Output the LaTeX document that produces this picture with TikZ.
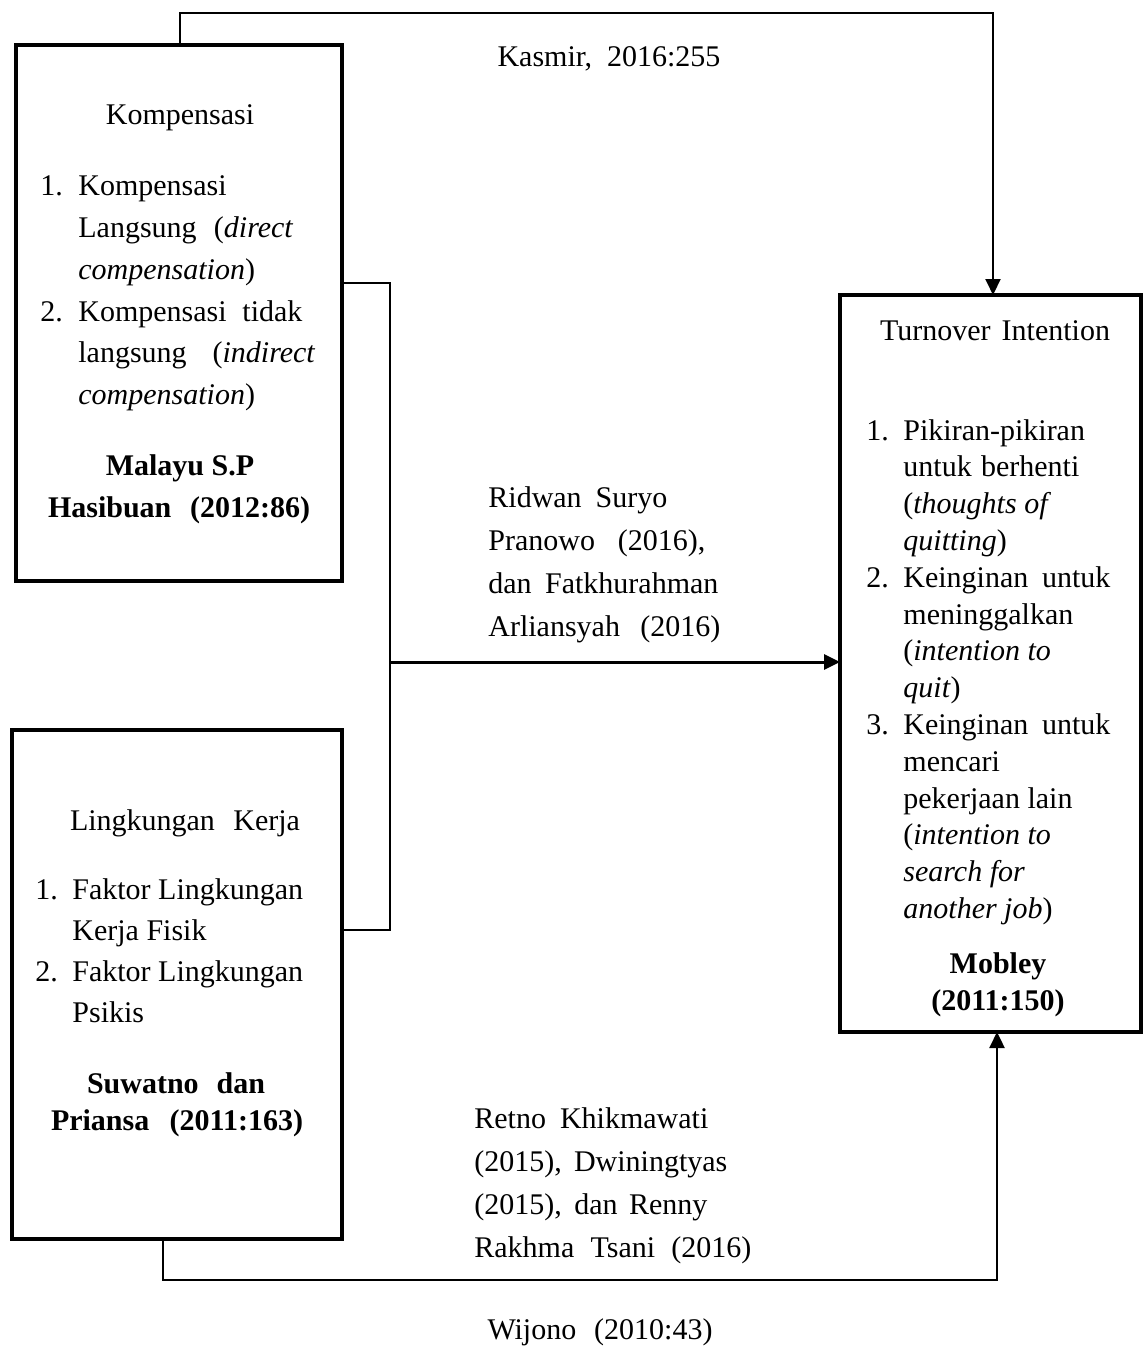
\documentclass[tikz,border=0pt]{standalone}
\usepackage{fontspec}
\setmainfont{Liberation Serif}
\usetikzlibrary{arrows.meta}
\newcommand{\jl}[2]{\makebox[\dimexpr #1pt/2\relax][s]{#2}}
\begin{document}
\begin{tikzpicture}[x=0.5pt,y=-0.5pt,
  box/.style={draw,line width=2pt,inner sep=0pt,outer sep=0pt},
  txt/.style={anchor=base west,inner sep=0pt,font=\fontsize{15pt}{18pt}\selectfont},
  ctxt/.style={anchor=base,inner sep=0pt,font=\fontsize{15pt}{18pt}\selectfont},
  btxt/.style={anchor=base,inner sep=0pt,font=\fontsize{15pt}{18pt}\selectfont\bfseries},
  arr/.style={-{Triangle[width=7.5pt,length=8pt]}}]
\useasboundingbox (0,0) rectangle (1144,1348);

% boxes
\node[box,minimum width=163pt,minimum height=268pt] (k) at (179,313) {};
\node[box,minimum width=165pt,minimum height=254.5pt] (l) at (177,984.5) {};
\node[box,minimum width=150.5pt,minimum height=368.5pt] (t) at (990.5,663.5) {};

% connectors
\coordinate (tl) at (180,13);
\coordinate (tr) at (993,13);
\draw[line width=1pt,arr] (k.north -| tl) -- (tl) -- (tr) -- (t.north -| tr);

\coordinate (b1) at (390,283);
\coordinate (b2) at (390,930);
\coordinate (bm) at (390,662);
\draw[line width=0.75pt] (k.east |- b1) -- (b1) -- (b2) -- (l.east |- b2);
\draw[line width=1.5pt,arr] (bm) -- (t.west |- bm);

\coordinate (bl) at (163,1280);
\coordinate (br) at (997,1280);
\draw[line width=1.2pt,arr] (l.south -| bl) -- (bl) -- (br) -- (t.south -| br);

% Kompensasi box
\node[ctxt] (k0) at (180,125) {Kompensasi};
\node[txt] (k1n) at (40,196) {1.};
\node[txt] (k1a) at (78,196) {Kompensasi};
\node[txt] (k1b) at (78,238) {\jl{215}{Langsung (\textit{direct}}};
\node[txt] (k1c) at (78,279) {\textit{compensation})};
\node[txt] (k2n) at (40,321) {2.};
\node[txt] (k2a) at (78,321) {\jl{224}{Kompensasi tidak}};
\node[txt] (k2b) at (78,362) {\jl{237}{langsung (\textit{indirect}}};
\node[txt] (k2c) at (78,404) {\textit{compensation})};
\node[btxt] (k3) at (180,475) {Malayu S.P};
\node[btxt] (k4) at (179,517) {\jl{262}{Hasibuan (2012:86)}};

% Lingkungan Kerja box
\node[ctxt] (l0) at (185,830) {\jl{230}{Lingkungan Kerja}};
\node[txt] (l1n) at (35,899) {1.};
\node[txt] (l1a) at (72,899) {Faktor Lingkungan};
\node[txt] (l1b) at (72,940) {Kerja Fisik};
\node[txt] (l2n) at (35,981) {2.};
\node[txt] (l2a) at (72,981) {Faktor Lingkungan};
\node[txt] (l2b) at (72,1022) {Psikis};
\node[btxt] (l3) at (176,1093) {\jl{178}{Suwatno dan}};
\node[btxt] (l4) at (177,1130) {\jl{252}{Priansa (2011:163)}};

% Turnover Intention box
\node[ctxt] (t0) at (995,340) {\jl{230}{Turnover Intention}};
\node[txt] (t1n) at (866,440) {1.};
\node[txt] (t1a) at (903,440) {Pikiran-pikiran};
\node[txt] (t1b) at (903,476.8) {\jl{176}{untuk berhenti}};
\node[txt] (t1c) at (903,513.6) {(\textit{thoughts of}};
\node[txt] (t1d) at (903,550.4) {\textit{quitting})};
\node[txt] (t2n) at (866,587.2) {2.};
\node[txt] (t2a) at (903,587.2) {\jl{207}{Keinginan untuk}};
\node[txt] (t2b) at (903,624) {meninggalkan};
\node[txt] (t2c) at (903,660.8) {(\textit{intention to}};
\node[txt] (t2d) at (903,697.6) {\textit{quit})};
\node[txt] (t3n) at (866,734.4) {3.};
\node[txt] (t3a) at (903,734.4) {\jl{207}{Keinginan untuk}};
\node[txt] (t3b) at (903,771.2) {mencari};
\node[txt] (t3c) at (903,808) {pekerjaan lain};
\node[txt] (t3d) at (903,844.8) {(\textit{intention to}};
\node[txt] (t3e) at (903,881.6) {\textit{search for}};
\node[txt] (t3f) at (903,918.4) {\textit{another job})};
\node[btxt] (t4) at (998,973) {Mobley};
\node[btxt] (t5) at (998,1010) {(2011:150)};

% connector labels
\node[ctxt] (kas) at (609,67) {Kasmir, \ 2016:255};
\node[txt] (r1) at (488,507) {\jl{179}{Ridwan Suryo}};
\node[txt] (r2) at (488,550) {\jl{217}{Pranowo (2016),}};
\node[txt] (r3) at (488,593) {\jl{230}{dan Fatkhurahman}};
\node[txt] (r4) at (488,636) {\jl{232}{Arliansyah (2016)}};
\node[txt] (w1) at (474,1128) {\jl{234}{Retno Khikmawati}};
\node[txt] (w2) at (474,1171) {\jl{253}{(2015), Dwiningtyas}};
\node[txt] (w3) at (474,1214) {\jl{233}{(2015), dan Renny}};
\node[txt] (w4) at (474,1257) {\jl{277}{Rakhma Tsani (2016)}};
\node[ctxt] (wij) at (600,1339) {\jl{225}{Wijono (2010:43)}};
\end{tikzpicture}
\end{document}
